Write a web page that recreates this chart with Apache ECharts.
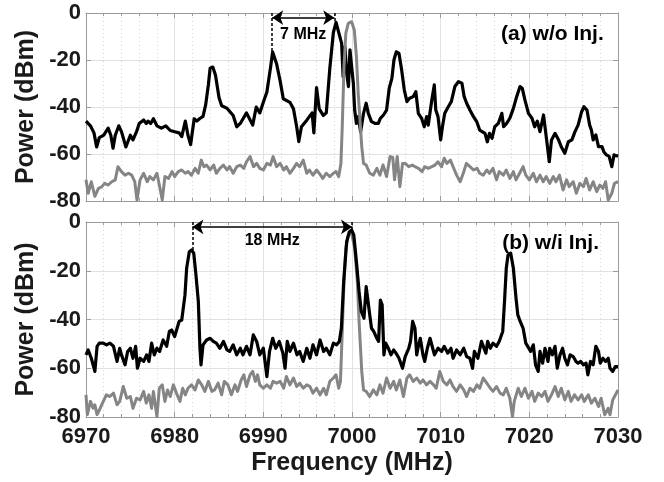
<!DOCTYPE html>
<html>
<head>
<meta charset="utf-8">
<script src="https://cdn.jsdelivr.net/npm/echarts@6/dist/echarts.min.js"></script>
<style>
html,body{margin:0;padding:0;background:#fff;}
#chart{width:664px;height:482px;}
</style>
</head>
<body>
<div id="chart"></div>
<script>
// ---- Data (frequency MHz, power dBm) ----
var xTicks = [6970, 6980, 6990, 7000, 7010, 7020, 7030];
var yTicks = [0, -20, -40, -60, -80];

// (a) w/o injection : black = spectrum, gray = reference
var topBlack = [[6970,-46],[6970.5,-48],[6970.9,-51],[6971.2,-57],[6971.5,-53],[6972,-52],[6972.5,-49],[6972.8,-52],[6973.05,-57.5],[6973.3,-52],[6973.7,-48],[6974,-50.5],[6974.5,-57],[6975,-52],[6975.3,-54],[6975.7,-50.5],[6976,-47],[6976.5,-45.5],[6976.8,-47],[6977,-46],[6977.3,-47],[6977.6,-45],[6978,-48],[6978.5,-49],[6979,-48],[6979.5,-50],[6980,-50.5],[6980.5,-51],[6980.8,-52.6],[6981.2,-46],[6981.5,-52],[6981.8,-56],[6982.2,-45],[6982.5,-46],[6982.8,-45],[6983.2,-44],[6983.5,-39],[6983.8,-30.6],[6984,-23.5],[6984.3,-23],[6984.6,-26.4],[6985,-36],[6985.3,-39.5],[6985.9,-40.5],[6986.6,-43.6],[6987,-48.4],[6987.4,-47],[6988.1,-42.5],[6988.8,-47.7],[6989.2,-40],[6989.6,-42.5],[6990,-38],[6990.4,-33.6],[6990.8,-23.5],[6991.05,-16.6],[6991.5,-21.7],[6991.9,-29],[6992.25,-36.5],[6993,-38],[6993.4,-40.8],[6993.76,-48.4],[6994,-54.7],[6994.3,-48.4],[6994.9,-45.6],[6995.5,-42.5],[6995.7,-51],[6996,-31.7],[6996.3,-40.8],[6996.76,-43.6],[6997.1,-42.5],[6997.5,-23.5],[6997.9,-8.3],[6998.2,-4],[6998.83,-12.9],[6999,-27.1],[6999.2,-14.3],[6999.4,-25.7],[6999.6,-31.3],[6999.77,-15.7],[6999.96,-15],[7000.15,-29.9],[7000.3,-41.3],[7000.5,-47],[7000.7,-44.1],[7000.97,-50.5],[7001.3,-42.7],[7001.6,-38.4],[7001.84,-42.7],[7002.2,-46.2],[7002.6,-47],[7002.97,-47],[7003.2,-44.8],[7003.55,-43.4],[7003.9,-41.3],[7004.2,-32],[7004.5,-27.8],[7004.73,-20],[7005,-16.5],[7005.3,-17.2],[7005.6,-24.3],[7005.9,-32.8],[7006.2,-37.7],[7006.5,-36.3],[7006.9,-35.6],[7007.2,-33.5],[7007.48,-42.7],[7007.85,-44.8],[7008.15,-48.4],[7008.42,-44.1],[7008.6,-47.7],[7009,-37],[7009.28,-30.6],[7009.45,-41.3],[7009.7,-44.1],[7010,-54],[7010.2,-48.4],[7010.46,-42.7],[7010.86,-39.9],[7011.2,-37.7],[7011.6,-31.3],[7012,-29.2],[7012.4,-29.9],[7012.65,-35.6],[7012.93,-38.4],[7013.3,-41.3],[7013.7,-44.1],[7014.06,-46.2],[7014.4,-49.8],[7015,-51.2],[7015.26,-54.8],[7015.5,-51.2],[7015.8,-53.3],[7016.1,-48.4],[7016.5,-47],[7016.9,-42.7],[7017.1,-48.4],[7017.44,-47],[7017.8,-44.8],[7018.2,-40.6],[7018.57,-35.6],[7018.95,-31.3],[7019.2,-32],[7019.5,-37],[7019.9,-42.7],[7020.3,-44.8],[7020.6,-48.4],[7020.9,-46],[7021.2,-50.5],[7021.6,-43.4],[7021.95,-54],[7022.25,-63.3],[7022.5,-54],[7022.9,-51.2],[7023.3,-54],[7023.6,-56.9],[7024,-59.7],[7024.4,-54.8],[7024.8,-54],[7025.15,-50.5],[7025.5,-47.7],[7025.9,-42],[7026.16,-39.9],[7026.5,-41.3],[7026.8,-47.7],[7027,-49.8],[7027.2,-54],[7027.5,-51.9],[7027.8,-56.9],[7028.2,-56.9],[7028.4,-59],[7028.7,-60.4],[7029,-61],[7029.3,-65.4],[7029.55,-60.4],[7030,-61]];

var topGray = [[6970,-71],[6970.25,-76.7],[6970.6,-71.8],[6971,-78],[6971.4,-74.6],[6971.77,-74],[6972.1,-72.5],[6972.5,-73.2],[6972.9,-71.8],[6973.3,-71],[6973.6,-65.4],[6974,-67.5],[6974.4,-69],[6974.8,-68.2],[6975.15,-69],[6975.5,-71.8],[6975.75,-79.6],[6976.1,-71],[6976.5,-68.2],[6976.9,-71.8],[6977.2,-69.6],[6977.6,-71],[6978,-68.2],[6978.27,-73.2],[6978.6,-79.6],[6978.9,-69.6],[6979.3,-70.4],[6979.7,-67.5],[6980,-69.6],[6980.4,-67.5],[6980.8,-66.8],[6981.2,-68.2],[6981.5,-67.5],[6981.9,-69],[6982.3,-66.1],[6982.66,-68.2],[6983,-62.6],[6983.3,-65.4],[6983.6,-64.7],[6984,-66.8],[6984.4,-64.7],[6984.7,-68.2],[6985.1,-66.1],[6985.5,-64.7],[6985.9,-66.8],[6986.2,-65.4],[6986.6,-68.2],[6987,-65.4],[6987.4,-64.7],[6987.8,-66.1],[6988.1,-63.3],[6988.5,-61.1],[6988.9,-65.4],[6989.25,-64],[6989.6,-66.1],[6990,-66.8],[6990.4,-64],[6990.8,-64.7],[6991.1,-61.1],[6991.5,-65.4],[6991.9,-64],[6992.3,-66.8],[6992.6,-65.4],[6993,-68.2],[6993.4,-66.1],[6993.76,-64],[6994.1,-65.4],[6994.5,-62.6],[6994.9,-68.2],[6995.2,-66.8],[6995.6,-69],[6996,-66.8],[6996.3,-68.2],[6996.7,-70.4],[6997.1,-68.2],[6997.5,-69.6],[6997.9,-68.2],[6998.2,-67.5],[6998.5,-69.6],[6998.75,-64],[6998.9,-48.4],[6999.1,-22.8],[6999.3,-8.7],[6999.58,-4.4],[6999.96,-3.7],[7000.26,-7.2],[7000.5,-18.6],[7000.7,-34.2],[7000.9,-45.5],[7001.1,-56.9],[7001.3,-64],[7001.6,-64.7],[7002,-68.2],[7002.4,-69],[7002.8,-66.1],[7003.15,-69],[7003.5,-64.7],[7003.9,-69.6],[7004.3,-61.1],[7004.6,-61.5],[7004.8,-71],[7005.1,-61.1],[7005.4,-73.9],[7005.7,-64],[7006,-64],[7006.4,-65.4],[7006.8,-64.7],[7007.1,-65.4],[7007.5,-66.1],[7007.9,-67.5],[7008.2,-65.4],[7008.6,-66.1],[7009,-65.4],[7009.36,-64.7],[7009.7,-63.3],[7010.1,-65.4],[7010.4,-61.8],[7010.7,-64],[7011.1,-62.6],[7011.4,-65.4],[7011.8,-69],[7012.2,-71.8],[7012.55,-68.2],[7012.9,-64],[7013.3,-65.4],[7013.7,-66.8],[7014.1,-66.1],[7014.4,-68.2],[7014.8,-69],[7015.2,-66.8],[7015.5,-68.2],[7015.9,-66.1],[7016.3,-71],[7016.6,-67.5],[7017.06,-69],[7017.4,-66.8],[7017.8,-70.4],[7018.2,-67.5],[7018.5,-71],[7018.9,-68.2],[7019.3,-65.4],[7019.6,-69],[7020,-71],[7020.45,-68.2],[7020.8,-71.8],[7021.2,-69],[7021.57,-71.8],[7021.9,-69.6],[7022.3,-72.5],[7022.7,-69.6],[7023,-71.8],[7023.4,-69],[7023.8,-75.3],[7024.2,-71],[7024.5,-73.9],[7024.95,-71.8],[7025.3,-76.7],[7025.7,-72.5],[7026.1,-73.9],[7026.4,-70.4],[7026.8,-75.3],[7027.2,-71.8],[7027.6,-76],[7027.95,-73.2],[7028.3,-74.6],[7028.6,-71.8],[7028.9,-79.6],[7029.3,-76.7],[7029.6,-72.5],[7030,-71.8]];

// (b) w/i injection
var botBlack = [[6970,-54.5],[6970.25,-52.5],[6970.6,-55.9],[6971,-61.3],[6971.25,-51],[6971.5,-49.7],[6971.95,-49.7],[6972.3,-50.4],[6972.7,-49.7],[6973.1,-51],[6973.5,-57.2],[6973.8,-51.8],[6974,-54.5],[6974.4,-58.6],[6974.7,-53.1],[6975,-51.8],[6975.3,-55.9],[6975.6,-51],[6975.8,-60],[6976.1,-55.9],[6976.5,-57.2],[6976.84,-54.5],[6977.1,-57.2],[6977.4,-49.7],[6977.7,-54.5],[6978,-51.8],[6978.3,-53.1],[6978.7,-48.4],[6979.1,-51],[6979.4,-44.9],[6979.66,-44.3],[6980,-47],[6980.2,-46.3],[6980.5,-40.8],[6980.8,-40.2],[6981,-39.5],[6981.16,-30],[6981.35,-19],[6981.65,-12.2],[6981.9,-11.5],[6982.15,-12.8],[6982.4,-21.7],[6982.67,-32.7],[6982.85,-51.8],[6982.97,-58.6],[6983.2,-50.4],[6983.6,-48.4],[6984,-47.7],[6984.36,-49],[6984.7,-49.7],[6985.1,-51.8],[6985.5,-49],[6985.9,-52.5],[6986.2,-53.1],[6986.6,-50.4],[6987,-54.5],[6987.4,-51.8],[6987.7,-54.5],[6988.1,-51],[6988.5,-54.5],[6988.87,-46.3],[6989.25,-49],[6989.6,-54.5],[6990,-51.8],[6990.4,-63.4],[6990.7,-53.1],[6991.05,-47.7],[6991.4,-51.8],[6991.8,-49],[6992.2,-53.8],[6992.45,-60],[6992.7,-49],[6993,-53.1],[6993.4,-49.7],[6993.8,-54.5],[6994.1,-53.1],[6994.5,-57.2],[6994.9,-51.8],[6995.26,-55.9],[6995.6,-50.4],[6996,-54.5],[6996.4,-48.4],[6996.8,-53.1],[6997.1,-51.8],[6997.5,-54.5],[6997.9,-49.7],[6998.27,-50.4],[6998.57,-49],[6998.8,-43.6],[6999.06,-24.5],[6999.4,-8],[6999.7,-4],[6999.96,-3.3],[7000.2,-5.3],[7000.5,-16.3],[7000.8,-28.6],[7001.05,-36.7],[7001.35,-39.5],[7001.6,-26.5],[7001.8,-25.8],[7002,-38.1],[7002.2,-43.6],[7002.45,-44.9],[7002.8,-47.7],[7003,-49],[7003.2,-32],[7003.4,-34],[7003.6,-54.5],[7003.8,-49.7],[7004.1,-51.8],[7004.4,-54.5],[7004.7,-52.5],[7004.96,-53.8],[7005.3,-55.9],[7005.7,-60],[7006,-55.2],[7006.4,-51.8],[7006.6,-49],[7006.84,-40.8],[7007.1,-43.6],[7007.3,-54.5],[7007.48,-51],[7007.7,-47.7],[7008,-54.5],[7008.2,-57.2],[7008.5,-51.8],[7008.8,-47.7],[7009.1,-51.8],[7009.3,-54.5],[7009.7,-51.8],[7010.1,-53.1],[7010.4,-51],[7010.8,-53.8],[7011.16,-51.8],[7011.4,-55.9],[7011.8,-52.5],[7012.2,-54.5],[7012.6,-51.8],[7012.93,-55.2],[7013.3,-55.9],[7013.6,-60],[7013.8,-53.1],[7014.2,-55.9],[7014.6,-49],[7014.8,-48.4],[7015.1,-53.8],[7015.3,-49],[7015.6,-51.8],[7015.9,-49.7],[7016.3,-51],[7016.6,-49],[7017,-44.9],[7017.2,-32.7],[7017.4,-19],[7017.6,-13.5],[7017.9,-12.8],[7018.2,-19],[7018.5,-31.3],[7018.7,-38.1],[7018.97,-40.8],[7019.3,-43.6],[7019.6,-49.7],[7019.8,-49.7],[7020.15,-53.1],[7020.45,-50.4],[7020.7,-58.6],[7021,-61.3],[7021.2,-53.1],[7021.5,-57.9],[7021.77,-51.8],[7022.1,-57.2],[7022.3,-51.8],[7022.6,-54.5],[7022.9,-51],[7023.15,-60],[7023.46,-54.5],[7023.75,-51.8],[7024,-55.9],[7024.3,-58.6],[7024.6,-54.5],[7024.95,-55.2],[7025.26,-57.2],[7025.5,-57.9],[7025.8,-57.2],[7026.1,-58.6],[7026.4,-57.9],[7026.6,-62.7],[7026.9,-57.2],[7027.2,-58.6],[7027.5,-51],[7027.8,-53.1],[7028,-57.9],[7028.3,-55.9],[7028.6,-57.2],[7028.9,-55.9],[7029.1,-60],[7029.4,-61.3],[7029.7,-59.3],[7030,-59.3]];

var botGray = [[6970,-70.9],[6970.15,-79],[6970.5,-73.6],[6970.8,-76.4],[6971,-75],[6971.25,-79],[6971.6,-76.4],[6971.95,-73.6],[6972.3,-70.9],[6972.7,-71.6],[6973.1,-70.2],[6973.5,-75],[6973.8,-73.6],[6974.2,-67.5],[6974.6,-72.3],[6975,-71.6],[6975.3,-76.4],[6975.7,-72.3],[6976.1,-73],[6976.5,-69.5],[6976.8,-74.3],[6977.1,-70.9],[6977.4,-76.4],[6977.6,-69.5],[6978,-79.8],[6978.27,-68.2],[6978.6,-66.8],[6978.9,-73.6],[6979.2,-68.9],[6979.5,-71.6],[6979.85,-66.8],[6980.2,-70.2],[6980.6,-73.6],[6980.9,-68.2],[6981.2,-70.9],[6981.5,-68.2],[6981.9,-66.8],[6982.3,-68.9],[6982.66,-64.8],[6983.05,-66.8],[6983.4,-69.5],[6983.8,-65.4],[6984.2,-69.5],[6984.5,-68.9],[6984.9,-66.1],[6985.3,-70.9],[6985.6,-65.4],[6986,-66.8],[6986.4,-70.9],[6986.8,-66.8],[6987.1,-69.5],[6987.5,-64.8],[6987.8,-62.7],[6988.1,-67.5],[6988.5,-62.7],[6988.8,-61.3],[6989.1,-65.4],[6989.35,-62.7],[6989.6,-66.8],[6990,-68.2],[6990.4,-66.8],[6990.8,-68.2],[6991.1,-65.4],[6991.5,-66.1],[6991.9,-65.4],[6992.3,-68.2],[6992.6,-63.4],[6993,-66.8],[6993.4,-64],[6993.76,-67.5],[6994.1,-66.1],[6994.5,-68.2],[6994.9,-66.8],[6995.26,-67.5],[6995.6,-70.2],[6996,-68.2],[6996.4,-70.9],[6996.8,-68.2],[6997.1,-70.9],[6997.5,-65.4],[6997.9,-64],[6998.2,-62.7],[6998.5,-68.2],[6998.7,-65.4],[6998.9,-44.9],[6999.1,-24.5],[6999.3,-10.8],[6999.6,-5.3],[6999.96,-4.6],[7000.3,-10.8],[7000.6,-24.5],[7000.8,-40.8],[7001.1,-61.3],[7001.3,-68.9],[7001.6,-69.5],[7002,-71.6],[7002.4,-68.9],[7002.8,-70.9],[7003.15,-66.8],[7003.5,-70.2],[7003.9,-64],[7004.3,-68.2],[7004.7,-65.4],[7005,-68.9],[7005.4,-64.8],[7005.8,-71.6],[7006.2,-64],[7006.5,-62.7],[7006.9,-65.4],[7007.3,-64],[7007.7,-66.1],[7008,-64.8],[7008.4,-66.8],[7008.8,-65.4],[7009.2,-66.8],[7009.5,-68.2],[7009.9,-61.3],[7010.3,-65.4],[7010.7,-66.8],[7011.05,-64.8],[7011.4,-67.5],[7011.8,-69.5],[7012.2,-66.8],[7012.6,-68.9],[7012.93,-71.6],[7013.3,-68.2],[7013.7,-69.5],[7014.1,-66.8],[7014.4,-68.2],[7014.8,-64],[7015.2,-66.1],[7015.6,-68.2],[7015.9,-69.5],[7016.3,-67.5],[7016.7,-70.2],[7017.06,-70.9],[7017.4,-68.2],[7017.8,-72.3],[7018.1,-79.8],[7018.3,-73.6],[7018.75,-68.2],[7019.1,-71.6],[7019.5,-68.2],[7019.9,-72.3],[7020.3,-69.5],[7020.6,-73.6],[7021,-70.2],[7021.4,-71.6],[7021.77,-69.5],[7022.1,-73.6],[7022.5,-70.9],[7022.9,-67.5],[7023.26,-71.6],[7023.6,-68.2],[7024,-73],[7024.4,-69.5],[7024.7,-73.6],[7025.1,-70.9],[7025.5,-73],[7025.9,-70.9],[7026.2,-73.6],[7026.65,-70.9],[7027,-74.3],[7027.4,-72.3],[7027.8,-75.7],[7028.1,-72.3],[7028.5,-79.1],[7028.9,-76.4],[7029.1,-79.1],[7029.4,-73],[7030,-68.9]];

// Annotation anchors (data coordinates)
var annoA = {f1: 6991, p1: -16.6, f2: 6998, p2: -3.6, arrowP: -2.0, text: '7 MHz', textF: 6994.5, textP: -9.4};
var annoB = {f1: 6982, p1: -11.5, f2: 7000, p2: -3.3, arrowP: -2.0, text: '18 MHz', textF: 6991, textP: -7.7};
var panelA = {text: '(a) w/o Inj.', f: 7022.6, p: -9};
var panelB = {text: '(b) w/i Inj.', f: 7022.4, p: -8.6};

// ---- Chart ----
var FONT = '"Liberation Sans", Arial, Helvetica, sans-serif';
var TXT = '#1a1a1a';
var BOX = '#9a9a9a';
var chart = echarts.init(document.getElementById('chart'), null, {renderer: 'canvas'});

function xAxisMain(gi, showLabels) {
  return {
    gridIndex: gi, type: 'value', min: xTicks[0], max: xTicks[xTicks.length - 1], interval: 10,
    position: 'bottom',
    axisLine: {show: true, onZero: false, lineStyle: {color: BOX, width: 1}},
    axisTick: {show: true, inside: true, length: 5, lineStyle: {color: BOX}},
    minorTick: {show: true, splitNumber: 5, length: 3, lineStyle: {color: BOX}},
    splitLine: {show: true, lineStyle: {color: '#e2e2e2', width: 1}},
    minorSplitLine: {show: true, lineStyle: {color: '#d4d4d4', width: 1, type: [1, 3]}},
    axisLabel: {show: showLabels, color: TXT, fontSize: 22, fontWeight: 'bold', fontFamily: FONT, margin: 9,
      formatter: function (v) { return String(v); }},
    name: showLabels ? 'Frequency (MHz)' : '',
    nameLocation: 'middle', nameGap: 34,
    nameTextStyle: {color: TXT, fontSize: 25, fontWeight: 'bold', fontFamily: FONT}
  };
}
function xAxisTop(gi) {
  return {
    gridIndex: gi, type: 'value', min: xTicks[0], max: xTicks[xTicks.length - 1], interval: 10,
    position: 'top',
    axisLine: {show: true, onZero: false, lineStyle: {color: BOX}},
    axisTick: {show: true, inside: true, length: 5, lineStyle: {color: BOX}},
    minorTick: {show: true, splitNumber: 5, length: 3, lineStyle: {color: BOX}},
    splitLine: {show: false}, axisLabel: {show: false}
  };
}
function yAxisMain(gi) {
  return {
    gridIndex: gi, type: 'value', min: yTicks[yTicks.length - 1], max: yTicks[0], interval: 20,
    position: 'left',
    axisLine: {show: true, onZero: false, lineStyle: {color: BOX}},
    axisTick: {show: true, inside: true, length: 5, lineStyle: {color: BOX}},
    splitLine: {show: true, lineStyle: {color: '#e2e2e2', width: 1}},
    axisLabel: {show: true, color: TXT, fontSize: 22, fontWeight: 'bold', fontFamily: FONT, margin: 5},
    name: 'Power (dBm)', nameLocation: 'middle', nameGap: 46, nameRotate: 90,
    nameTextStyle: {color: TXT, fontSize: 25, fontWeight: 'bold', fontFamily: FONT}
  };
}
function yAxisRight(gi) {
  return {
    gridIndex: gi, type: 'value', min: yTicks[yTicks.length - 1], max: yTicks[0], interval: 20,
    position: 'right',
    axisLine: {show: true, onZero: false, lineStyle: {color: BOX}},
    axisTick: {show: true, inside: true, length: 5, lineStyle: {color: BOX}},
    splitLine: {show: false}, axisLabel: {show: false}
  };
}
function annotations(a, panel) {
  return {
    markLine: {
      silent: true, animation: false, symbol: ['none', 'none'], symbolSize: 11,
      label: {show: false},
      lineStyle: {color: '#000', width: 1.5, type: [3, 2]},
      emphasis: {disabled: true},
      data: [
        [{coord: [a.f1, 0]}, {coord: [a.f1, a.p1]}],
        [{coord: [a.f2, 0]}, {coord: [a.f2, a.p2]}],
        [{coord: [a.f1, a.arrowP], symbol: 'arrow', lineStyle: {type: 'solid', width: 1.5, color: '#000'}},
         {coord: [a.f2, a.arrowP], symbol: 'arrow'}]
      ]
    },
    markPoint: {
      silent: true, animation: false, symbol: 'circle', symbolSize: 0,
      data: [
        {name: a.text, coord: [a.textF, a.textP],
         label: {show: true, position: 'inside', formatter: a.text, color: '#000', fontSize: 16, fontWeight: 'bold', fontFamily: FONT}},
        {name: panel.text, coord: [panel.f, panel.p],
         label: {show: true, position: 'inside', formatter: panel.text, color: '#000', fontSize: 21, fontWeight: 'bold', fontFamily: FONT}}
      ]
    }
  };
}
function lineSeries(xi, yi, data, color, width, z, extra) {
  var s = {
    type: 'line', xAxisIndex: xi, yAxisIndex: yi, data: data,
    showSymbol: false, symbol: 'none', clip: true, animation: false, silent: true,
    lineStyle: {color: color, width: width, join: 'round'}, z: z
  };
  if (extra) { for (var k in extra) s[k] = extra[k]; }
  return s;
}

var option = {
  backgroundColor: '#fff',
  animation: false,
  grid: [
    {left: 86, right: 46, top: 13, height: 188, show: false},
    {left: 86, right: 46, top: 222, height: 195, show: false}
  ],
  xAxis: [xAxisMain(0, false), xAxisTop(0), xAxisMain(1, true), xAxisTop(1)],
  yAxis: [yAxisMain(0), yAxisRight(0), yAxisMain(1), yAxisRight(1)],
  series: [
    lineSeries(0, 0, topBlack, '#000000', 3.2, 3, annotations(annoA, panelA)),
    lineSeries(0, 0, topGray, '#858585', 3, 4),
    lineSeries(2, 2, botGray, '#858585', 3, 3),
    lineSeries(2, 2, botBlack, '#000000', 3.2, 4, annotations(annoB, panelB))
  ]
};
chart.setOption(option);
</script>
</body>
</html>
